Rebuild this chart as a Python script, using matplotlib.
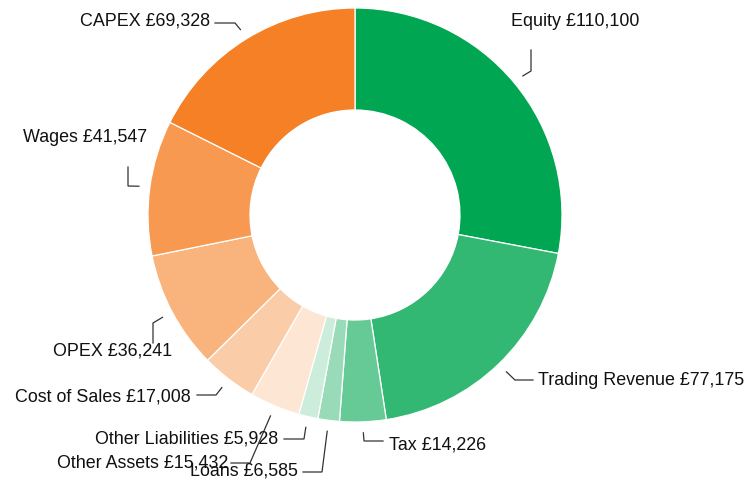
import numpy as np
import matplotlib
matplotlib.use("Agg")
import matplotlib.pyplot as plt

# ---- data ----
categories = ["Equity", "Trading Revenue", "Tax", "Loans", "Other Liabilities",
              "Other Assets", "Cost of Sales", "OPEX", "Wages", "CAPEX"]
values = [110100, 77175, 14226, 6585, 5928, 15432, 17008, 36241, 41547, 69328]
colors = ["#00a651", "#33b874", "#66ca97", "#99dbb9", "#cceddc",
          "#fde6d3", "#fbcca8", "#f9b37c", "#f79951", "#f58025"]

# ---- layout (pixel coordinates, origin top-left) ----
W, H = 748, 482
cx, cy = 355, 215
R = 207
inner = 105
# text anchor: (x, baseline y, ha), elbow, end of leader
label_layout = [
    ((511, 26, "left"),   (531, 71),  (531, 50)),
    ((538, 385, "left"),  (515, 380), (533, 380)),
    ((389, 449, "left"),  (364, 441), (383, 441)),
    ((298, 476, "right"), (322, 472), (303, 472)),
    ((278, 443, "right"), (304, 439), (284, 439)),
    ((228, 467, "right"), (250, 463), (231, 463)),
    ((191, 401, "right"), (216, 395), (197, 395)),
    ((172, 355, "right"), (153, 323), (153, 343)),
    ((147, 142, "right"), (128, 186), (128, 167)),
    ((210, 26, "right"),  (235, 23),  (215, 23)),
]

fig = plt.figure(figsize=(W / 100, H / 100), dpi=100)
ax = fig.add_axes([0, 0, 1, 1])
ax.set_xlim(0, W)
ax.set_ylim(0, H)
ax.axis("off")

def fy(y):
    return H - y

ax.pie(values, colors=colors, startangle=90, counterclock=False,
       center=(cx, fy(cy)), radius=R, frame=True,
       wedgeprops=dict(width=R - inner, edgecolor="white", linewidth=0.9))
ax.set_xlim(0, W)
ax.set_ylim(0, H)
ax.set_aspect("auto")
ax.axis("off")

total = float(sum(values))
cum = 0.0
for name, v, (txt, elbow, end) in zip(categories, values, label_layout):
    mid = (cum + v / 2) / total * 2 * np.pi
    cum += v
    sx = cx + 218 * np.sin(mid)
    sy = cy - 218 * np.cos(mid)
    ax.plot([sx, elbow[0], end[0]], [fy(sy), fy(elbow[1]), fy(end[1])],
            color="#333333", lw=0.9, solid_joinstyle="miter")
    tx, ty, ha = txt
    ax.text(tx, fy(ty), f"{name} £{v:,}", ha=ha, va="baseline",
            fontsize=12.9, family=["Liberation Sans", "DejaVu Sans"], color="#111111")

fig.savefig("out.png", dpi=100, facecolor="white")
